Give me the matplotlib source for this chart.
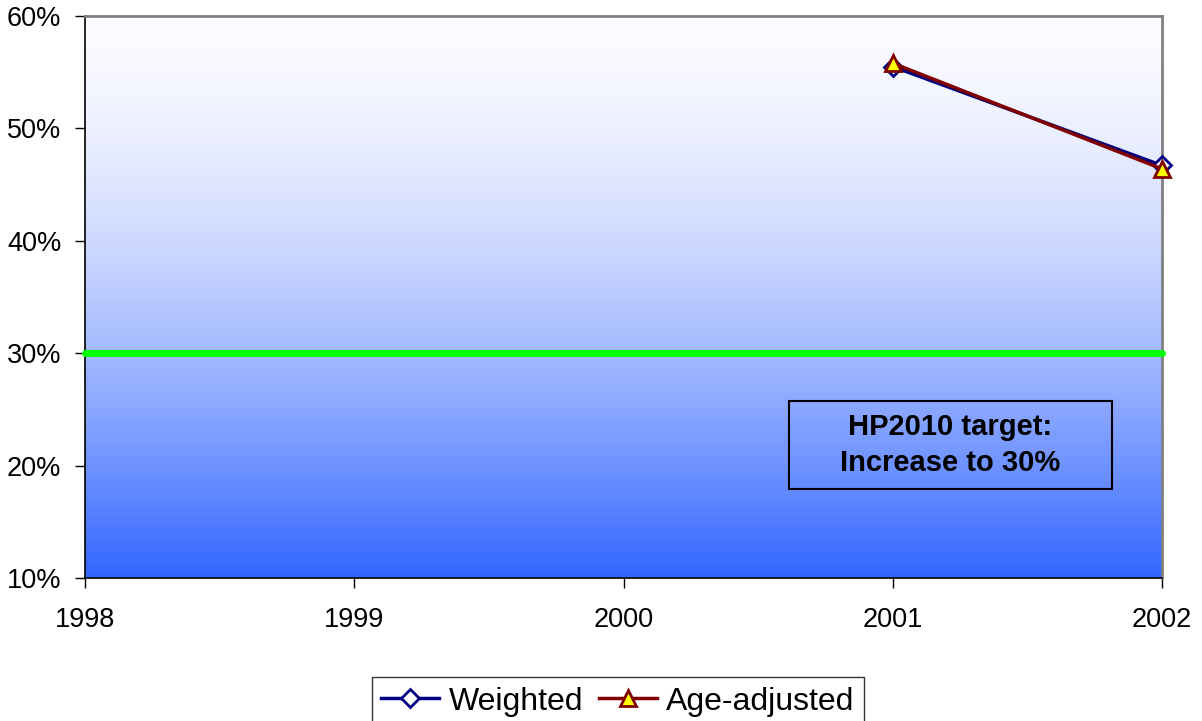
import numpy as np
import matplotlib.pyplot as plt
from matplotlib.colors import LinearSegmentedColormap
from matplotlib.patches import Rectangle

plt.rcParams['font.family'] = ['Liberation Sans', 'DejaVu Sans']

# data
years = [1998, 1999, 2000, 2001, 2002]
weighted_years = [2001, 2002]
weighted = [55.5, 46.7]
age_adj_years = [2001, 2002]
age_adjusted = [55.8, 46.4]
target = 30
y_ticks = [10, 20, 30, 40, 50, 60]

fig = plt.figure(figsize=(12.02, 7.21), dpi=100)
ax = fig.add_axes([85 / 1202, 1 - 578 / 721, (1162 - 85) / 1202, (578 - 16) / 721])

# background gradient, blue at bottom fading to white at top
grad_cmap = LinearSegmentedColormap.from_list('bg', ['#fbfbff', '#3366ff'])
g = np.linspace(1, 0, 256) ** 1.6
ax.imshow(g.reshape(-1, 1), aspect='auto', cmap=grad_cmap, vmin=0, vmax=1,
          extent=[1998, 2002, 10, 60], origin='lower', zorder=0)

# target line
ax.plot([1998, 2002], [target, target], color='#00ff00', lw=5, solid_capstyle='round',
        zorder=3, clip_on=False)

ax.plot(weighted_years, weighted, color='#000080', lw=2.5, marker='D', ms=9,
        mfc='white', mec='#000080', mew=2, label='Weighted', zorder=4, clip_on=False)
ax.plot(age_adj_years, age_adjusted, color='#800000', lw=2.5, marker='^', ms=12,
        mfc='#ffff00', mec='#800000', mew=2, label='Age-adjusted', zorder=5, clip_on=False)

ax.set_xlim(1998, 2002)
ax.set_ylim(10, 60)
ax.set_xticks(years)
ax.set_yticks(y_ticks)
ax.set_yticklabels([f'{v}%' for v in y_ticks])
ax.tick_params(axis='both', labelsize=19.5, direction='out', length=7, width=1, color='black')
ax.tick_params(axis='x', pad=14)
ax.tick_params(axis='y', pad=10)

for side in ['left', 'bottom']:
    ax.spines[side].set_color('black')
    ax.spines[side].set_linewidth(1.2)
for side in ['top', 'right']:
    ax.spines[side].set_color('#808080')
    ax.spines[side].set_linewidth(2)

# annotation box
ax.add_patch(Rectangle((0.6537, 0.1584), 0.2999, 0.1566, transform=ax.transAxes,
                       fill=False, ec='black', lw=1.5, zorder=6))
ax.text(0.8036, 0.2367, 'HP2010 target:\nIncrease to 30%', transform=ax.transAxes,
        ha='center', va='center', fontsize=21, fontweight='bold', linespacing=1.35,
        zorder=6)

leg = fig.legend(loc='upper center', bbox_to_anchor=(618 / 1202, 1 - 677 / 721), ncol=2,
                 fontsize=23, frameon=True, fancybox=False, edgecolor='black',
                 handlelength=1.8, handletextpad=0.3, columnspacing=0.5,
                 borderpad=0.3, borderaxespad=0)
leg.get_frame().set_linewidth(1)

fig.savefig('out.png', dpi=100)
